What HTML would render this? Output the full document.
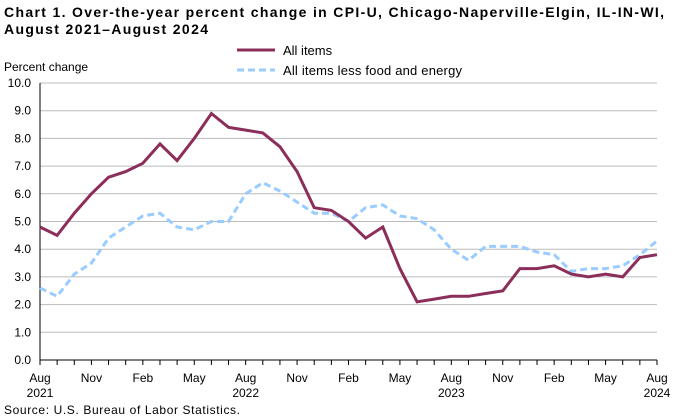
<!DOCTYPE html>
<html><head><meta charset="utf-8"><style>
body{margin:0;background:#fff;}
svg{display:block;font-family:"Liberation Sans",Arial,sans-serif;}
</style></head><body>
<svg id="s" width="682" height="420" xmlns="http://www.w3.org/2000/svg">
<text x="4" y="17" font-size="14" font-weight="bold" textLength="660" lengthAdjust="spacing">Chart 1. Over-the-year percent change in CPI-U, Chicago-Naperville-Elgin,  IL-IN-WI,</text>
<text x="4" y="34" font-size="14" font-weight="bold" textLength="204" lengthAdjust="spacing">August 2021–August 2024</text>
<text x="4" y="71" font-size="12">Percent change</text>
<line x1="237" y1="50" x2="275" y2="50" stroke="#8b2e5a" stroke-width="3"/>
<text x="283" y="55" font-size="13">All items</text>
<line x1="237" y1="70" x2="275" y2="70" stroke="#99ccff" stroke-width="3" stroke-dasharray="7,4"/>
<text x="283" y="75" font-size="13" textLength="179" lengthAdjust="spacing">All items less food and energy</text>
<g id="g"></g>
<text x="4" y="414" font-size="12" textLength="236" lengthAdjust="spacing">Source: U.S. Bureau  of Labor  Statistics.</text>
</svg>
<script>
var g=document.getElementById('g'),h='';
var L=40,R=657,T=83,B=360,dx=(R-L)/36,dy=(B-T)/10;
for(var i=0;i<=10;i++){var y=B-i*dy;
 if(i>0)h+='<line x1="'+L+'" x2="'+R+'" y1="'+y+'" y2="'+y+'" stroke="#bbb" stroke-width="1"/>';
 h+='<text x="31" y="'+(y+4)+'" font-size="12" text-anchor="end">'+i.toFixed(1)+'</text>';}
for(var i=0;i<=36;i++){var x=L+i*dx;h+='<line x1="'+x+'" x2="'+x+'" y1="'+B+'" y2="'+(B+5)+'" stroke="#000"/>';}
var ml=['Aug','Nov','Feb','May'];
for(var i=0;i<=12;i++){var x=L+i*3*dx;h+='<text x="'+x+'" y="382" font-size="12" text-anchor="middle">'+ml[i%4]+'</text>';}
[['2021',0],['2022',12],['2023',24],['2024',36]].forEach(function(a){h+='<text x="'+(L+a[1]*dx)+'" y="397" font-size="12" text-anchor="middle">'+a[0]+'</text>';});
h+='<line x1="'+L+'" x2="'+L+'" y1="'+T+'" y2="'+B+'" stroke="#000"/><line x1="'+L+'" x2="'+R+'" y1="'+B+'" y2="'+B+'" stroke="#000"/>';
var a=[4.8,4.5,5.3,6.0,6.6,6.8,7.1,7.8,7.2,8.0,8.9,8.4,8.3,8.2,7.7,6.8,5.5,5.4,5.0,4.4,4.8,3.3,2.1,2.2,2.3,2.3,2.4,2.5,3.3,3.3,3.4,3.1,3.0,3.1,3.0,3.7,3.8];
var c=[2.6,2.3,3.1,3.5,4.4,4.8,5.2,5.3,4.8,4.7,5.0,5.0,6.0,6.4,6.1,5.7,5.3,5.3,5.0,5.5,5.6,5.2,5.1,4.7,4.0,3.6,4.1,4.1,4.1,3.9,3.8,3.2,3.3,3.3,3.4,3.8,4.3];
function pts(d){return d.map(function(v,i){return (L+i*dx).toFixed(1)+','+(B-v*dy).toFixed(1)}).join(' ');}
h+='<polyline points="'+pts(c)+'" fill="none" stroke="#99ccff" stroke-width="3" stroke-dasharray="7,4"/>';
h+='<polyline points="'+pts(a)+'" fill="none" stroke="#8b2e5a" stroke-width="3"/>';
g.innerHTML=h;
</script>
</body></html>
